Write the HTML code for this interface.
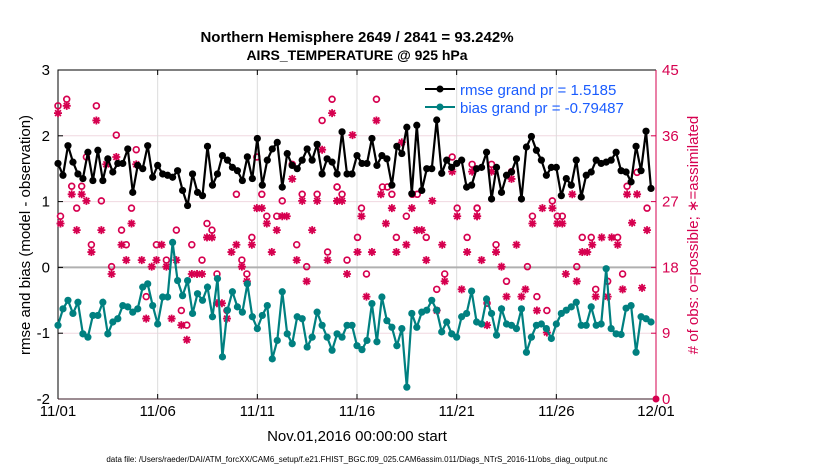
<!DOCTYPE html>
<html><head><meta charset="utf-8"><style>
body{margin:0;background:#fff}
svg{display:block;font-family:"Liberation Sans",sans-serif}
</style></head><body>
<svg id="chart" width="830" height="470" viewBox="0 0 830 470">
<text x="357" y="42" text-anchor="middle" font-size="15" font-weight="bold">Northern Hemisphere 2649 / 2841 = 93.242%</text>
<text x="357" y="60" text-anchor="middle" font-size="14" font-weight="bold">AIRS_TEMPERATURE @ 925 hPa</text>
<g id="grid"></g><g id="axes"></g><g id="obs"></g><g id="series"></g>
<g>
<line x1="425" y1="89" x2="455" y2="89" stroke="#000" stroke-width="2"/><circle cx="440" cy="89" r="3.5" fill="#000"/>
<text x="460" y="95" font-size="15" fill="#1a5cff">rmse grand pr = 1.5185</text>
<line x1="425" y1="107" x2="455" y2="107" stroke="#008080" stroke-width="2"/><circle cx="440" cy="107" r="3.5" fill="#008080"/>
<text x="460" y="113" font-size="15" fill="#1a5cff">bias grand pr = -0.79487</text>
</g>
<text transform="translate(30,235) rotate(-90)" text-anchor="middle" font-size="15">rmse and bias (model - observation)</text>
<text transform="translate(698,235) rotate(-90)" text-anchor="middle" font-size="15" fill="#d6004f"># of obs: o=possible; ∗=assimilated</text>
<text x="357" y="441" text-anchor="middle" font-size="15">Nov.01,2016 00:00:00 start</text>
<text x="357" y="462" text-anchor="middle" font-size="8">data file: /Users/raeder/DAI/ATM_forcXX/CAM6_setup/f.e21.FHIST_BGC.f09_025.CAM6assim.011/Diags_NTrS_2016-11/obs_diag_output.nc</text>
</svg>
<script>
const xTickLabels=["11/01","11/06","11/11","11/16","11/21","11/26","12/01"];
const xTickDays=[0,5,10,15,20,25,30];
const yTicks=[3,2,1,0,-1,-2];
const rTicks=[45,36,27,18,9,0];
const rmse=[1.58,1.40,1.85,1.60,1.42,1.35,1.75,1.32,1.78,1.32,1.65,1.45,1.58,1.58,1.80,1.14,1.55,1.50,1.85,1.37,1.55,1.42,1.40,1.37,1.47,1.17,0.94,1.42,1.14,
1.09,1.84,1.25,1.42,1.70,1.63,1.52,1.47,1.32,1.68,1.35,1.96,1.25,1.63,1.80,1.90,1.22,1.73,1.55,1.50,1.63,1.80,1.63,1.87,1.42,1.65,1.60,1.42,
2.06,1.42,1.42,1.70,1.58,1.58,1.96,1.55,1.70,1.65,1.25,1.84,1.73,2.13,1.12,2.16,1.17,1.50,1.50,2.24,1.43,1.63,1.52,1.58,1.63,1.22,1.25,1.50,
1.52,1.75,1.04,1.52,1.14,1.40,1.45,1.65,1.04,1.83,1.99,1.78,1.63,1.40,1.52,1.52,1.09,1.35,1.25,1.63,1.07,1.40,1.45,1.63,1.58,1.60,1.63,1.75,1.47,
1.45,1.30,1.84,1.47,2.07,1.20];
const bias=[-0.88,-0.63,-0.50,-0.70,-0.53,-1.01,-1.06,-0.73,-0.73,-0.53,-1.01,-0.83,-0.78,-0.58,-0.60,-0.68,-0.63,-0.30,-0.25,-0.58,-0.86,-0.45,-0.45,0.38,-0.20,-0.43,-0.20,-0.70,-0.40,
-0.50,-0.30,-0.75,-0.17,-1.36,-0.65,-0.37,-0.60,-0.68,-0.25,-0.75,-0.93,-0.73,-0.58,-1.39,-1.11,-0.37,-1.01,-1.16,-0.75,-0.78,-1.21,-1.06,-0.68,-0.88,-1.06,-1.26,-1.01,
-1.06,-0.88,-0.88,-1.19,-1.25,-1.11,-0.55,-1.13,-0.45,-0.81,-0.91,-1.19,-0.93,-1.82,-0.70,-0.91,-0.68,-0.65,-0.50,-0.65,-0.98,-0.83,-1.01,-1.06,-0.75,-0.70,-0.36,-0.83,
-0.86,-0.48,-0.70,-1.03,-0.63,-0.86,-0.88,-0.93,-0.63,-1.29,-1.06,-0.88,-0.86,-0.93,-1.08,-0.86,-0.70,-0.65,-0.60,-0.53,-0.88,-0.88,-0.60,-0.88,-0.86,-0.02,-0.93,-1.01,-1.02,
-0.62,-0.58,-1.29,-0.75,-0.78,-0.83];
const possStep=[0,1.75,7.7,11.7,15.7,5.7,0.5,2.75,4.75,3.75,8.7,14.75,12.75,6.7,13.7,10.75,23.75,19.75,21.75,26.85,17.7,24.75,25.85,
55,53,39.9,47,35.8,40.9,49,52,56,45,41.9,43.9,29.9,30.9,38.9,47.9,54.1,28.9,36.9,49.9,31.9,37.9,33.9,
63.9,56,57,65.1,66.1,67,71.1,72.1,79.1,83.1,60.9,69.9,80.1,84.1,60.1,67.9,73.9,82.1,58,61.9,77.6,76,
87,91,84.1,95.2,99.2,100.2,101.2,87.9,105.2,107,112.3,94.2,104.1,90,107.9,110.3,113.3,86.1,96.1,98.1,116.2,118.2,114.2];
const possCount=[40.1,41,40.1,36.1,34.1,33.1,25,29.1,29.1,26.1,27.1,26.1,23.1,21.1,21.1,18.1,23.1,21.1,19,21.1,14,12.1,10.1,
41,38.1,33.1,32.1,28,28,28,28,29,27.1,25,25,24,23.1,22.1,21.1,20.1,19,19,18.1,17.1,17.1,12.1,
41,29,28,29,29,28,28,28,33.1,32.1,26.1,25,26.1,26.1,22.1,22.1,22.1,22.1,19,17.1,17.1,15,
32.1,31.1,26.1,25,27.1,25,25,21.1,22.1,22.1,22.1,18.1,18.1,16.1,15,16.1,17.1,13.1,14,12.1,31,26.1,29.1];
const assimStep=[0,1.75,7.7,11.7,9.7,15.7,0.5,2.75,4.75,5.7,3.75,8.7,14.75,12.75,6.7,13.7,16.8,10.75,18.8,19.75,20.8,21.75,23.75,26.85,17.7,22.8,24.75,25.85,
55,53,47,39.9,40.9,49,52,56,41.9,43.9,45,45.9,29.9,30.9,51,35.8,38.9,34.8,42.9,36.9,47.9,54.1,27.9,28.9,37.9,49.9,31.9,32.9,33.9,
63.9,59.1,69,56,57,64.8,79.1,83.1,75.1,60.9,67,71,80.1,84.1,65.8,72,73,69.9,77.1,60.1,63,67.9,82.1,73.9,58,77.6,81,61.9,76,
87,91,84.1,103.2,97.2,99.2,100.2,101.2,95.2,92,87.9,105.2,106.2,107.2,109.1,111.1,112.3,85,89,101.9,104.1,93.8,93,90,107.9,110.3,113.3,96.1,86.1,98.1,
114.2,116.2,115.2,118.2,117.2];
const assimCount=[39.1,40.1,38.1,33.1,32.1,32.1,24,28,28,27.1,23.1,23.1,24,21.1,20.1,19,19,17.1,18.1,19,21.1,18.1,19,17.1,11,11,10.1,8.1,
39.1,34.1,30.1,26.1,26.1,27.1,27.1,27.1,24,23.1,25,25,22.1,22.1,23.1,21.1,21.1,20.1,20.1,18.1,19,19,17.1,17.1,16.1,16.1,13.1,13.1,11,
38.1,36.1,35.1,27.1,27.1,28,31.1,31.1,27.1,25,26.1,26.1,25,25,24,23.1,23.1,21.1,21.1,20.1,20.1,20.1,20.1,19,17.1,16.1,15,14,12.1,
31.1,30.1,25,28,26.1,26.1,24,24,24,21.1,20.1,20.1,20.1,21.1,22.1,22.1,21.1,19,18.1,17.1,16.1,15,14,14,14,14,15,12.1,10.1,9.1,
28,28,24.1,23.1,15.2];

const NS="http://www.w3.org/2000/svg";
const L=58,R=656,T=70,B=399;
const xDay=d=>L+(R-L)*d/30;
const xStep=s=>xDay(s/4);
const yL=v=>B-(B-T)*(v+2)/5;
const yR=v=>B-(B-T)*v/45;
const MAG="#d6004f",TEAL="#008080";
function mk(tag,attrs,parent){const e=document.createElementNS(NS,tag);for(const k in attrs)e.setAttribute(k,attrs[k]);parent.appendChild(e);return e;}
const grid=document.getElementById('grid'),axes=document.getElementById('axes'),obs=document.getElementById('obs'),ser=document.getElementById('series');
yTicks.forEach(v=>{
  if(v!==3&&v!==-2&&v!==0){const g=mk('line',{x1:L,x2:R,y1:yL(v),y2:yL(v),stroke:'#f0d8e0','stroke-width':1},grid);
  
  }
  const t=mk('text',{x:L-8,y:yL(v)+5,'text-anchor':'end','font-size':15},axes);t.textContent=v;
  
  
  mk('line',{x1:L,x2:L+5,y1:yL(v),y2:yL(v),stroke:'#000'},axes);
});
rTicks.forEach(v=>{
  const t=mk('text',{x:R+6,y:yR(v)+5,'font-size':15,fill:MAG},axes);t.textContent=v;
  
  
  mk('line',{x1:R-5,x2:R,y1:yR(v),y2:yR(v),stroke:MAG},axes);
});
xTickDays.forEach((d,i)=>{
  if(i>0&&i<xTickDays.length-1){const g=mk('line',{x1:xDay(d),x2:xDay(d),y1:T,y2:B,stroke:'#dcdcdc'},grid);
  
  }
  mk('line',{x1:xDay(d),x2:xDay(d),y1:B,y2:B-5,stroke:'#000'},axes);
  mk('line',{x1:xDay(d),x2:xDay(d),y1:T,y2:T+5,stroke:'#000'},axes);
  const t=mk('text',{x:xDay(d),y:B+17,'text-anchor':'middle','font-size':15},axes);t.textContent=xTickLabels[i];
  
  
});
const zl=mk('line',{x1:L,x2:R,y1:yL(0),y2:yL(0),stroke:'#b0b0b0','stroke-width':2},grid);


mk('path',{d:`M${L},${B}V${T}H${R}`,fill:'none',stroke:'#000','stroke-width':1},axes);
mk('line',{x1:L,x2:R,y1:B,y2:B,stroke:'#3a1a24','stroke-width':1},axes);
mk('line',{x1:R,x2:R,y1:T,y2:B,stroke:MAG,'stroke-width':1},axes);
mk('circle',{cx:R,cy:B,r:3.5,fill:MAG},axes);
possStep.forEach((s,i)=>{
  const c=mk('circle',{cx:xStep(s),cy:yR(possCount[i]),r:2.9,fill:'none',stroke:MAG,'stroke-width':1.7},obs);
  
  
});
assimStep.forEach((s,i)=>{
  const x=xStep(s),y=yR(assimCount[i]),r=4,d=2.9;
  const p=mk('path',{d:`M${x-r},${y}H${x+r}M${x},${y-r}V${y+r}M${x-d},${y-d}L${x+d},${y+d}M${x-d},${y+d}L${x+d},${y-d}`,stroke:MAG,'stroke-width':1.8},obs);
  
  
});
function series(vals,color,name){
  const pts=vals.map((v,i)=>`${xStep(i).toFixed(1)},${yL(v).toFixed(1)}`).join(' ');
  const pl=mk('polyline',{points:pts,fill:'none',stroke:color,'stroke-width':2.2},ser);
  
  
  vals.forEach((v,i)=>{const c=mk('circle',{cx:xStep(i),cy:yL(v),r:3.6,fill:color},ser);
    
    });
}
series(rmse,'#000','rmse');
series(bias,TEAL,'bias');
</script>
</body></html>
